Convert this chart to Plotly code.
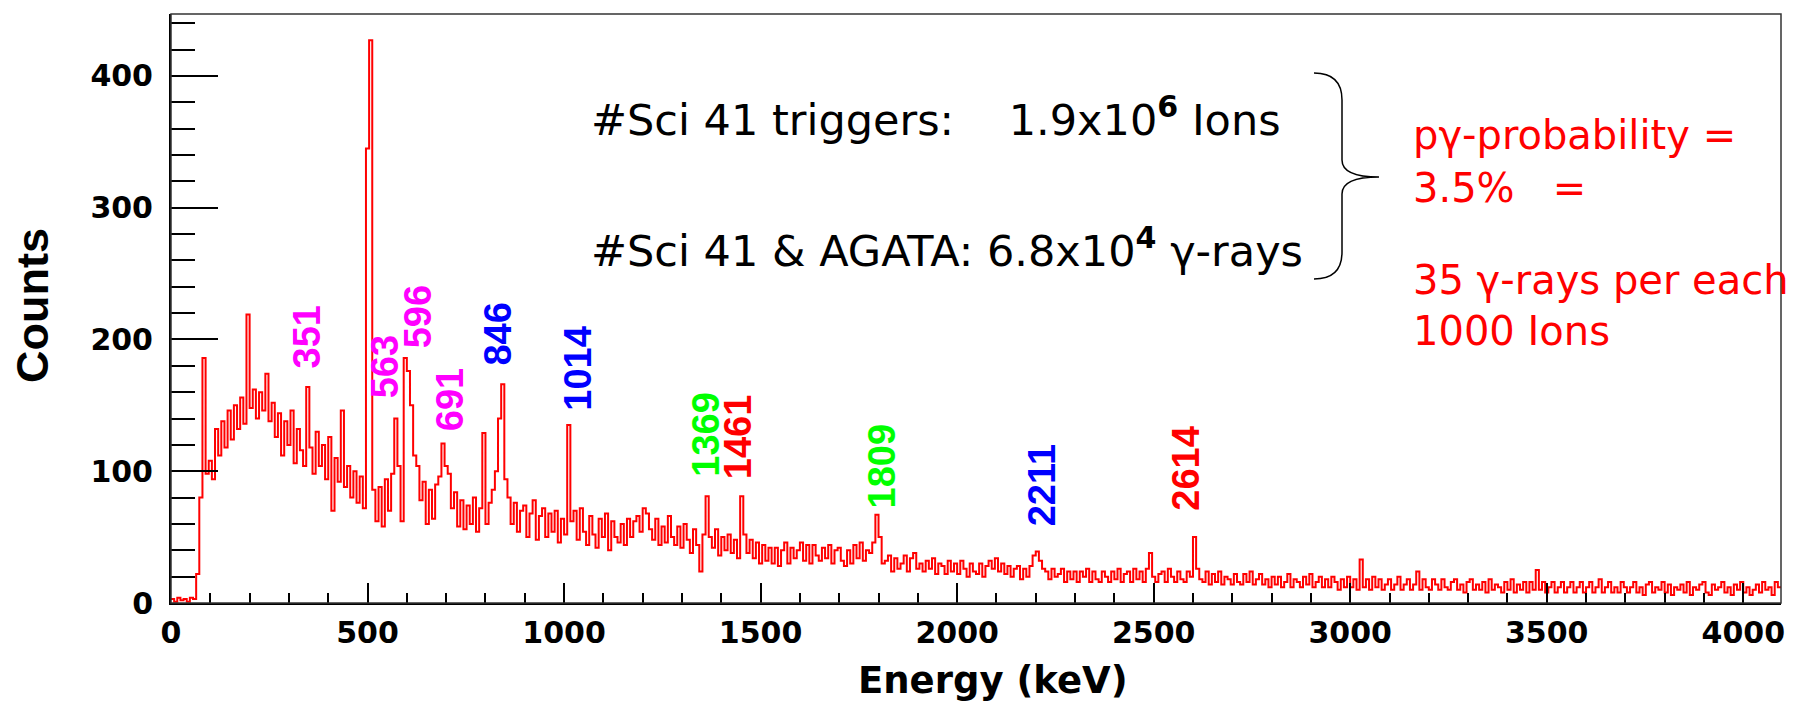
import numpy as np
import plotly.graph_objects as go

# ---------------- data ----------------
BIN_WIDTH_KEV = 8
counts = [
    3, 1, 4, 2, 3, 1, 4, 3, 22, 80, 186, 98, 108, 94, 132, 112,
    138, 118, 146, 124, 150, 132, 156, 136, 219, 148, 162, 140, 160, 146, 174, 138,
    152, 126, 144, 112, 138, 120, 146, 106, 132, 116, 104, 164, 118, 98, 130, 104,
    120, 94, 126, 70, 110, 92, 146, 88, 104, 80, 100, 76, 96, 72, 345, 427,
    86, 62, 88, 58, 94, 70, 98, 140, 104, 62, 186, 176, 150, 112, 104, 78,
    92, 60, 86, 64, 90, 96, 121, 104, 98, 72, 84, 58, 78, 56, 74, 60,
    80, 54, 72, 129, 60, 76, 86, 100, 140, 166, 94, 80, 60, 76, 54, 70,
    74, 50, 68, 78, 48, 66, 72, 50, 68, 54, 70, 46, 64, 52, 135, 62,
    70, 48, 72, 54, 44, 66, 52, 42, 64, 50, 68, 40, 62, 50, 46, 60,
    44, 64, 50, 62, 66, 54, 72, 68, 56, 48, 64, 44, 58, 46, 66, 50,
    44, 58, 42, 60, 48, 38, 56, 44, 24, 52, 81, 50, 42, 56, 36, 50,
    40, 52, 38, 48, 34, 81, 52, 38, 48, 34, 46, 30, 44, 32, 42, 30,
    42, 28, 40, 46, 30, 42, 34, 40, 46, 32, 44, 30, 44, 36, 32, 42,
    34, 44, 30, 40, 42, 32, 28, 40, 30, 44, 34, 46, 32, 40, 38, 46,
    67, 50, 30, 32, 36, 24, 34, 26, 30, 36, 24, 34, 38, 26, 30, 24,
    32, 26, 34, 22, 30, 28, 22, 32, 24, 30, 22, 32, 26, 20, 30, 24,
    22, 30, 20, 28, 32, 26, 34, 24, 30, 22, 28, 20, 26, 28, 18, 26,
    20, 28, 36, 39, 32, 26, 24, 18, 26, 20, 22, 26, 16, 24, 18, 24,
    16, 24, 20, 26, 16, 24, 18, 16, 24, 20, 16, 24, 18, 26, 16, 22,
    24, 16, 26, 18, 24, 16, 26, 38, 20, 16, 22, 24, 16, 26, 20, 16,
    24, 18, 16, 24, 20, 50, 26, 18, 16, 24, 14, 22, 16, 24, 14, 20,
    18, 14, 22, 16, 14, 22, 16, 24, 14, 18, 22, 14, 18, 12, 20, 14,
    20, 12, 16, 22, 12, 18, 16, 12, 20, 14, 22, 12, 16, 20, 12, 18,
    12, 20, 16, 10, 18, 12, 20, 12, 18, 10, 33, 12, 18, 10, 20, 12,
    18, 10, 14, 18, 10, 14, 20, 10, 14, 18, 10, 14, 24, 10, 18, 12,
    10, 18, 14, 10, 18, 12, 10, 16, 18, 10, 14, 8, 16, 18, 10, 14,
    10, 16, 8, 18, 10, 14, 12, 8, 16, 10, 18, 8, 14, 10, 16, 8,
    16, 10, 25, 10, 16, 8, 12, 16, 8, 12, 16, 8, 12, 16, 8, 12,
    16, 8, 12, 16, 8, 12, 18, 8, 12, 16, 8, 12, 8, 16, 12, 8,
    12, 16, 8, 12, 6, 14, 16, 8, 12, 10, 16, 8, 14, 6, 12, 10,
    14, 8, 16, 6, 12, 10, 14, 16, 8, 6, 14, 10, 12, 16, 8, 12,
    6, 14, 10, 16, 8, 12, 6, 10, 14, 8, 16, 10, 12, 6, 16, 12,
]

peak_labels = ["351", "563", "596", "691", "846", "1014",
               "1369", "1461", "1809", "2211", "2614"]
peak_label_x = [345, 545, 629, 710, 833, 1036, 1362, 1443, 1810, 2215, 2580]
peak_label_y = [202, 179, 217, 154, 204, 178, 128, 126, 104, 89, 102]
peak_colors = ["#FF00FF", "#FF00FF", "#FF00FF", "#FF00FF", "#0000FF", "#0000FF",
               "#00FF00", "#FF0000", "#00FF00", "#0000FF", "#FF0000"]

x_range = [0, 4096]
y_range = [0, 447]

# ---------------- figure ----------------
W, H = 1810, 705
L, R, T, B = 171, 1781, 14, 603   # plot area in pixels


def px(x):
    return (x - L) / (R - L)


def py(y):
    return (B - y) / (B - T)


edges = np.arange(len(counts) + 1) * BIN_WIDTH_KEV
yvals = list(counts) + [counts[-1]]

fig = go.Figure()
fig.add_trace(go.Scatter(
    x=edges, y=yvals, mode="lines",
    line=dict(shape="hv", color="#FF0000", width=2),
    hoverinfo="skip", showlegend=False,
))

TICKFONT = dict(family="DejaVu Sans", size=30, color="black", weight="bold")

fig.update_layout(
    width=W, height=H,
    margin=dict(l=L, r=W - R, t=T, b=H - B),
    paper_bgcolor="white", plot_bgcolor="white",
    showlegend=False,
    xaxis=dict(
        range=x_range, showgrid=False, zeroline=False,
        showline=True, linecolor="black", linewidth=2,
        ticks="inside", ticklen=20, tickwidth=1.5, tickcolor="black",
        tick0=0, dtick=500, tickfont=TICKFONT, ticklabelstandoff=2,
        minor=dict(ticks="inside", ticklen=10, tickwidth=1.5,
                   tickcolor="black", dtick=100, showgrid=False),
    ),
    yaxis=dict(
        range=y_range, showgrid=False, zeroline=False,
        showline=True, linecolor="black", linewidth=2,
        ticks="inside", ticklen=47, tickwidth=1.5, tickcolor="black",
        tick0=0, dtick=100, tickfont=TICKFONT, ticklabelstandoff=10,
        minor=dict(ticks="inside", ticklen=24, tickwidth=1.5,
                   tickcolor="black", dtick=20, showgrid=False),
    ),
)

# frame (top / right border)
fig.add_shape(type="rect", xref="paper", yref="paper", x0=0, y0=0, x1=1, y1=1,
              line=dict(color="#333333", width=1.5), layer="above")

ann = []
# axis titles
ann.append(dict(text="<b>Energy (keV)</b>", xref="paper", yref="paper",
                x=px(993), y=py(680), xanchor="center", yanchor="middle",
                showarrow=False,
                font=dict(family="DejaVu Sans", size=37, color="black")))
ann.append(dict(text="<b>Counts</b>", xref="paper", yref="paper",
                x=px(32), y=py(306), xanchor="center", yanchor="middle",
                textangle=-90, showarrow=False,
                font=dict(family="Liberation Sans, Arial", size=45, color="black")))

# peak labels
for lab, lx, ly, c in zip(peak_labels, peak_label_x, peak_label_y, peak_colors):
    ann.append(dict(text="<b>%s</b>" % lab, x=lx, y=ly, xref="x", yref="y",
                    xanchor="center", yanchor="middle", textangle=-90,
                    showarrow=False,
                    font=dict(family="Liberation Sans, Arial", size=38, color=c)))

NB = "\u00a0"
black_font = dict(family="DejaVu Sans", size=43, color="black")
ann.append(dict(text="#Sci 41 triggers:" + NB * 4 + "1.9x10<sup><b>6</b></sup>" + NB + "Ions",
                xref="paper", yref="paper", x=px(589), y=py(117),
                xanchor="left", yanchor="middle", showarrow=False, font=black_font))
ann.append(dict(text="#Sci 41 &amp; AGATA: 6.8x10<sup><b>4</b></sup> γ-rays",
                xref="paper", yref="paper", x=px(589), y=py(248),
                xanchor="left", yanchor="middle", showarrow=False, font=black_font))

red_font = dict(family="DejaVu Sans", size=40, color="#FF0000")
red_lines = [("pγ-probability =", 135),
             ("3.5%" + NB * 3 + "=", 188),
             ("35 γ-rays per each", 280),
             ("1000 Ions", 331)]
for txt, yy in red_lines:
    ann.append(dict(text=txt, xref="paper", yref="paper", x=px(1411), y=py(yy),
                    xanchor="left", yanchor="middle", showarrow=False, font=red_font))

fig.update_layout(annotations=ann)

# curly brace
pts = [(1314, 73), (1342, 73), (1342, 100), (1342, 160), (1342, 177), (1379, 177),
       (1342, 177), (1342, 194), (1342, 252), (1342, 279), (1314, 279)]
P = [(px(a), py(b)) for a, b in pts]
path = ("M {0[0]},{0[1]} Q {1[0]},{1[1]} {2[0]},{2[1]} L {3[0]},{3[1]} "
        "Q {4[0]},{4[1]} {5[0]},{5[1]} Q {6[0]},{6[1]} {7[0]},{7[1]} "
        "L {8[0]},{8[1]} Q {9[0]},{9[1]} {10[0]},{10[1]}").format(*P)
fig.add_shape(type="path", path=path, xref="paper", yref="paper",
              line=dict(color="black", width=1.5))

fig.write_html("out.html")
